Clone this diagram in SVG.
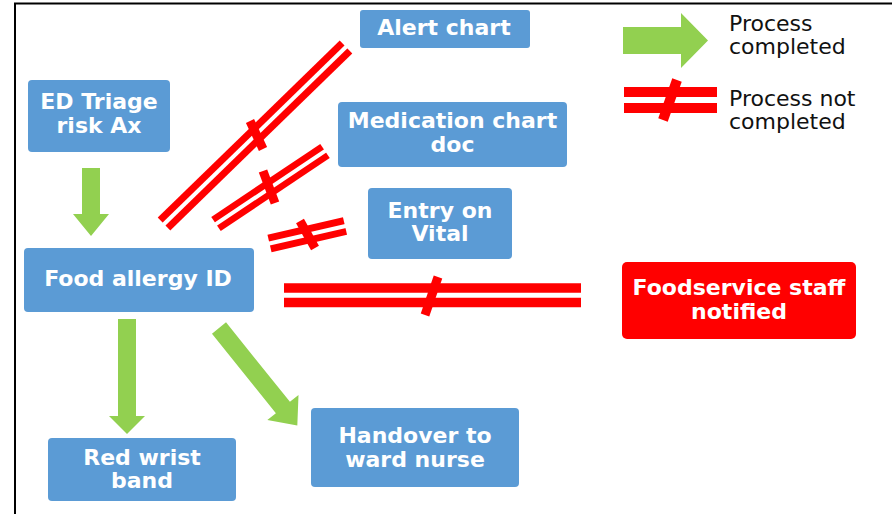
<svg xmlns="http://www.w3.org/2000/svg" width="892" height="514" viewBox="0 0 892 514">
<style>
.box{fill:#5B9BD5}
.boxr{fill:#FF0000}
.t{font-family:"DejaVu Sans",Verdana,sans-serif;font-weight:bold;font-size:22px;fill:#fff;text-anchor:middle}
.lg{font-family:"DejaVu Sans",Verdana,sans-serif;font-size:22px;fill:#111}
.ok{fill:#92D050}
.nr{stroke:#FF0000;fill:none}
.nw{stroke:#fff;fill:none}
.cb{stroke:#FF0000;stroke-width:9}
</style>
<rect width="892" height="514" fill="#fff"/>
<path d="M15,514 V3.5 H892" fill="none" stroke="#000" stroke-width="2"/>

<g id="connectors">
  <path class="ok" d="M82,168 H100 V214 H109 L91,236 L73,214 H82 Z"/>
  <path class="ok" d="M118,319 H136 V416 H145 L127,434 L109,416 H118 Z"/>
  <path class="ok" transform="translate(219,328) rotate(51.2)" d="M0,-9 H102 V-20 L125,0 L102,20 V9 H0 Z"/>
  <g id="nc-alert">
    <line class="nr" x1="164" y1="224" x2="346" y2="47" stroke-width="18"/>
    <line class="nw" x1="160" y1="228" x2="350" y2="43" stroke-width="4"/>
    <line class="cb" x1="250" y1="121" x2="263" y2="149"/>
  </g>
  <g id="nc-med">
    <line class="nr" x1="216" y1="224" x2="325" y2="151" stroke-width="17"/>
    <line class="nw" x1="212" y1="226.7" x2="329" y2="148.3" stroke-width="4"/>
    <line class="cb" x1="263" y1="171" x2="275" y2="203"/>
  </g>
  <g id="nc-vital">
    <line class="nr" x1="269.5" y1="243.5" x2="345" y2="226" stroke-width="18"/>
    <line class="nw" x1="265" y1="244.5" x2="350" y2="225" stroke-width="4"/>
    <line class="cb" x1="300" y1="221" x2="315" y2="248"/>
  </g>
  <g id="nc-food">
    <line class="nr" x1="284" y1="295.3" x2="581" y2="295.3" stroke-width="24"/>
    <line class="nw" x1="280" y1="295.3" x2="585" y2="295.3" stroke-width="5"/>
    <line class="cb" x1="438" y1="277" x2="425" y2="315" stroke-width="9"/>
  </g>
</g>

<g id="n-triage">
  <rect class="box" x="28" y="80" width="142" height="72" rx="4"/>
  <text class="t" x="99" y="109">ED Triage</text>
  <text class="t" x="99" y="133">risk Ax</text>
</g>
<g id="n-food">
  <rect class="box" x="24" y="248" width="230" height="64" rx="4"/>
  <text class="t" x="138" y="286">Food allergy ID</text>
</g>
<g id="n-alert">
  <rect class="box" x="360" y="10" width="170" height="38" rx="3"/>
  <text class="t" x="444" y="35">Alert chart</text>
</g>
<g id="n-med">
  <rect class="box" x="338" y="102" width="229" height="65" rx="4"/>
  <text class="t" x="452.5" y="128">Medication chart</text>
  <text class="t" x="452.5" y="152">doc</text>
</g>
<g id="n-vital">
  <rect class="box" x="368" y="188" width="144" height="71" rx="4"/>
  <text class="t" x="440" y="218">Entry on</text>
  <text class="t" x="440" y="241">Vital</text>
</g>
<g id="n-wrist">
  <rect class="box" x="48" y="438" width="188" height="63" rx="4"/>
  <text class="t" x="142" y="465">Red wrist</text>
  <text class="t" x="142" y="488">band</text>
</g>
<g id="n-handover">
  <rect class="box" x="311" y="408" width="208" height="79" rx="4"/>
  <text class="t" x="415" y="443">Handover to</text>
  <text class="t" x="415" y="467">ward nurse</text>
</g>
<g id="n-foodservice">
  <rect class="boxr" x="622" y="262" width="234" height="77" rx="5"/>
  <text class="t" x="739" y="295">Foodservice staff</text>
  <text class="t" x="739" y="319">notified</text>
</g>

<g id="legend">
  <path class="ok" d="M623,27 H681 V13 L708,40.5 L681,68 V54 H623 Z"/>
  <text class="lg" x="729" y="31">Process</text>
  <text class="lg" x="729" y="54">completed</text>
  <rect x="624" y="87" width="93" height="10" fill="#FF0000"/>
  <rect x="624" y="103" width="93" height="10" fill="#FF0000"/>
  <line x1="677" y1="80" x2="663" y2="120" stroke="#FF0000" stroke-width="10"/>
  <text class="lg" x="729" y="106">Process not</text>
  <text class="lg" x="729" y="129">completed</text>
</g>
</svg>
